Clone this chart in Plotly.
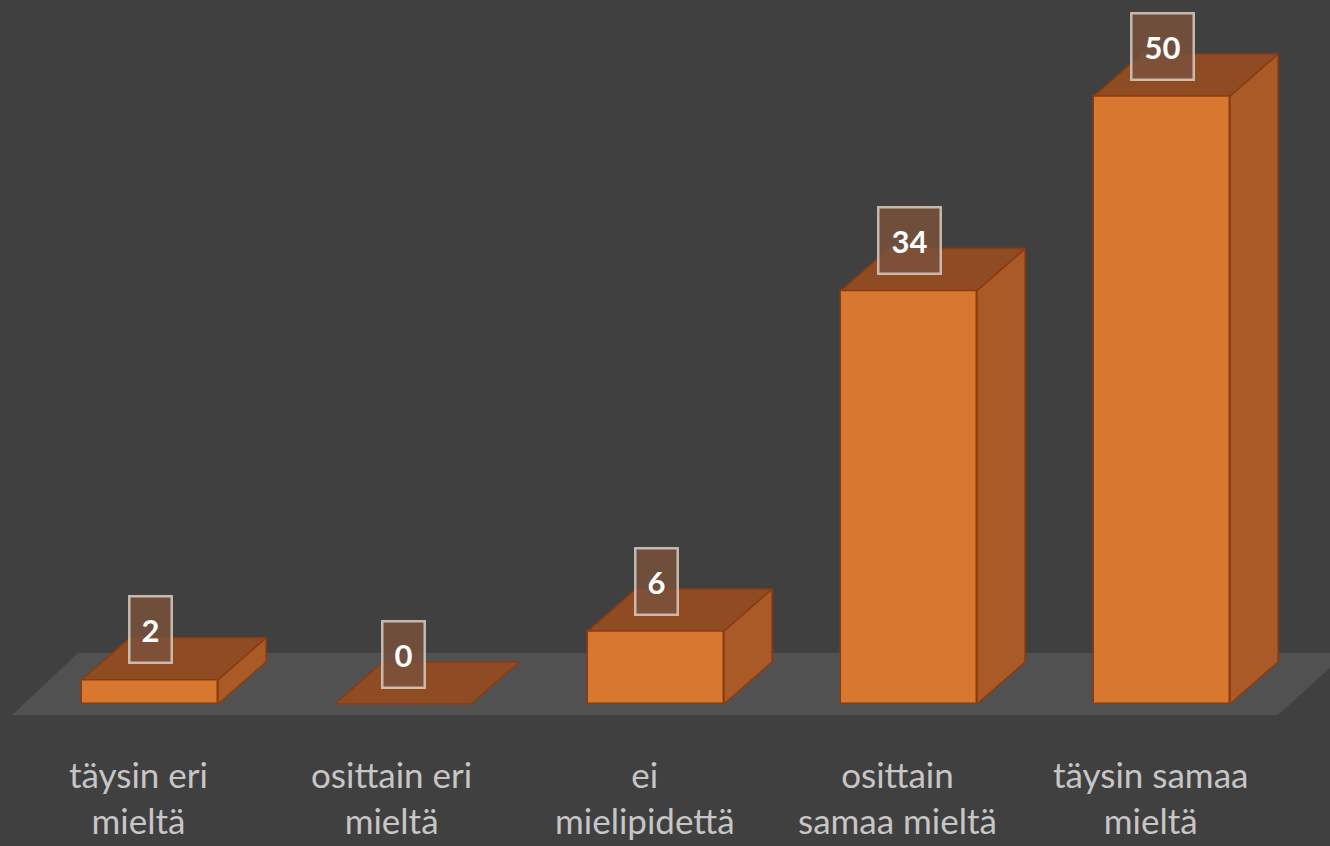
import plotly.graph_objects as go

categories = ["täysin eri<br>mieltä", "osittain eri<br>mieltä", "ei<br>mielipidettä",
              "osittain<br>samaa mieltä", "täysin samaa<br>mieltä"]
values = [2, 0, 6, 34, 50]

# geometry (data units)
BAR_W = 0.5375
DX = 0.19      # depth offset in x (category units)
DY = 3.45      # depth offset in y (value units)

BG = "#404040"
FRONT = "#d8772f"
SIDE = "#a95a26"
TOP = "#8f4b22"
EDGE = "#8a3c10"

fig = go.Figure()

# front faces
fig.add_trace(go.Bar(
    x=list(range(len(values))), y=values, width=BAR_W,
    marker=dict(color=FRONT, line=dict(color=EDGE, width=1.5)),
    hoverinfo="skip", showlegend=False))

# side and top faces
for i, v in enumerate(values):
    xl, xr = i - BAR_W / 2, i + BAR_W / 2
    if v > 0:
        fig.add_trace(go.Scatter(
            x=[xr, xr + DX, xr + DX, xr, xr],
            y=[0, DY, v + DY, v, 0],
            fill="toself", fillcolor=SIDE, mode="lines",
            line=dict(color=EDGE, width=1.5), hoverinfo="skip", showlegend=False))
    fig.add_trace(go.Scatter(
        x=[xl, xr, xr + DX, xl + DX, xl],
        y=[v, v, v + DY, v + DY, v],
        fill="toself", fillcolor=TOP, mode="lines",
        line=dict(color=EDGE, width=1.5), hoverinfo="skip", showlegend=False))

# floor (drawn beneath the bars)
floor = dict(type="path", xref="x", yref="y", layer="below",
             path="M -0.545 -0.9 L 4.458 -0.9 L 4.73 4.2 L -0.285 4.2 Z",
             fillcolor="#525152", line=dict(width=0))

annotations = []
for i, v in enumerate(values):
    txt = str(v)
    annotations.append(dict(
        x=i, y=v + 4.1, xref="x", yref="y", text="<b>%s</b>" % txt, showarrow=False,
        font=dict(family="Lato, Open Sans, sans-serif", size=31, color="white"),
        bgcolor="rgba(122,82,60,0.82)", bordercolor="rgba(215,205,195,0.85)",
        borderwidth=2.5, width=38 if len(txt) == 1 else 58, height=62,
        xanchor="center", yanchor="middle"))
for i, c in enumerate(categories):
    annotations.append(dict(
        x=i - 0.045, y=-3.9, xref="x", yref="y", text=c, showarrow=False,
        font=dict(family="Lato, Open Sans, sans-serif", size=35, color="#c6c6c6"),
        xanchor="center", yanchor="top", align="center"))

fig.update_layout(
    width=1330, height=846,
    margin=dict(l=0, r=0, t=0, b=0),
    paper_bgcolor=BG, plot_bgcolor=BG,
    xaxis=dict(range=[-0.5929, 4.664], visible=False, fixedrange=True),
    yaxis=dict(range=[-11.68, 57.89], visible=False, fixedrange=True),
    annotations=annotations,
    shapes=[floor],
    bargap=0,
)

fig.write_html("out.html", config={"displayModeBar": False},
               post_script="document.body.style.margin='0';document.body.style.overflow='hidden';")
